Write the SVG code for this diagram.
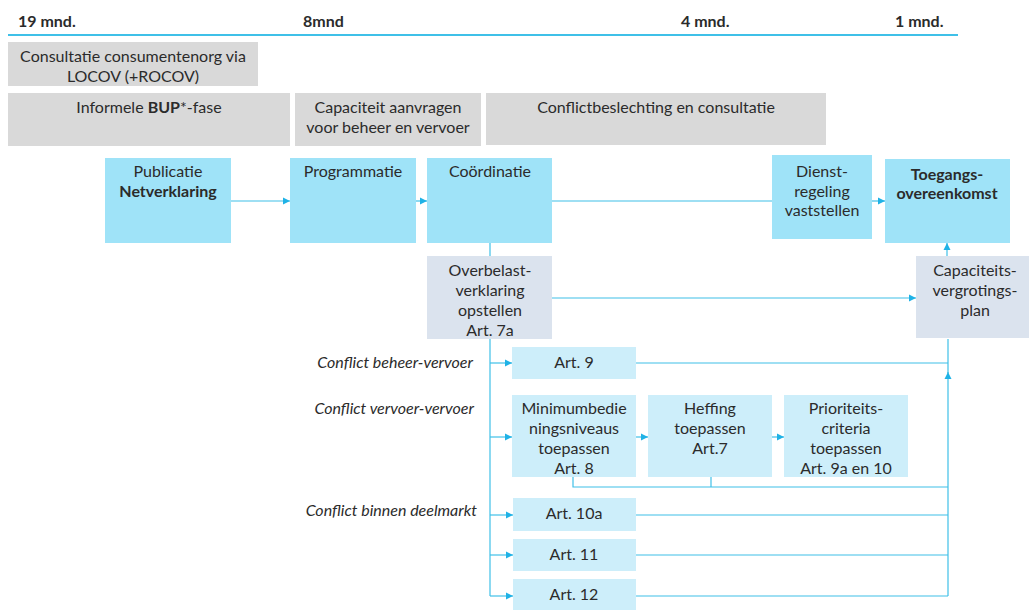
<svg xmlns="http://www.w3.org/2000/svg" width="1029" height="610" viewBox="0 0 1029 610">
<style>
text{font-family:Lato,"Noto Sans","Liberation Sans",sans-serif;font-size:16px;fill:#2b2b2b;text-anchor:middle}
.tl{font-weight:bold;text-anchor:start}
.b{font-weight:bold}
.it{font-style:italic;text-anchor:end}
.gray{fill:#d9d9d9}
.blue{fill:#9fe3f8}
.lblue{fill:#cdeefa}
.gb{fill:#dbe3ee}
.ln{stroke:#3fc0e8;stroke-width:1.2;fill:none}
</style>
<defs>
<marker id="ah" markerWidth="8" markerHeight="8" refX="7" refY="4" orient="auto" markerUnits="userSpaceOnUse">
<path d="M0,0.5 L7,4 L0,7.5 Z" fill="#1fb2e6"/>
</marker>
</defs>

<g id="timeline">
<line x1="8" y1="35" x2="958" y2="35" stroke="#3fc0e8" stroke-width="2"/>
<text class="tl" x="18" y="27">19 mnd.</text>
<text class="tl" x="303" y="27">8mnd</text>
<text class="tl" x="681" y="27">4 mnd.</text>
<text class="tl" x="895" y="27">1 mnd.</text>
</g>

<g id="phase-consultatie"><rect class="gray" x="8" y="42" width="250" height="44"/>
<text x="133" y="62">Consultatie consumentenorg via</text><text x="133" y="82">LOCOV (+ROCOV)</text></g>
<g id="phase-bup"><rect class="gray" x="8" y="93" width="282" height="53"/>
<text x="149" y="113">Informele <tspan class="b">BUP</tspan>*-fase</text></g>
<g id="phase-capaciteit"><rect class="gray" x="295" y="93" width="186" height="53"/>
<text x="388" y="113">Capaciteit aanvragen</text><text x="388" y="133">voor beheer en vervoer</text></g>
<g id="phase-conflict"><rect class="gray" x="486" y="93" width="340" height="52"/>
<text x="656" y="113">Conflictbeslechting en consultatie</text></g>

<g id="connectors">
<line class="ln" x1="231" y1="201" x2="290" y2="201" marker-end="url(#ah)"/>
<line class="ln" x1="416" y1="201" x2="427" y2="201" marker-end="url(#ah)"/>
<line class="ln" x1="552" y1="201" x2="772" y2="201"/>
<line class="ln" x1="872" y1="201" x2="885" y2="201" marker-end="url(#ah)"/>
<line class="ln" x1="947" y1="256" x2="947" y2="243" marker-end="url(#ah)"/>
<line class="ln" x1="552" y1="298" x2="916" y2="298" marker-end="url(#ah)"/>
<line class="ln" x1="490" y1="243" x2="490" y2="256"/>
<line class="ln" x1="490" y1="339" x2="490" y2="596"/>
<line class="ln" x1="490" y1="363" x2="512" y2="363" marker-end="url(#ah)"/>
<line class="ln" x1="490" y1="437" x2="512" y2="437" marker-end="url(#ah)"/>
<line class="ln" x1="490" y1="515" x2="513" y2="515" marker-end="url(#ah)"/>
<line class="ln" x1="490" y1="555" x2="513" y2="555" marker-end="url(#ah)"/>
<line class="ln" x1="490" y1="596" x2="513" y2="596" marker-end="url(#ah)"/>
<line class="ln" x1="636" y1="437" x2="648" y2="437" marker-end="url(#ah)"/>
<line class="ln" x1="772" y1="437" x2="784" y2="437" marker-end="url(#ah)"/>
<line class="ln" x1="636" y1="363" x2="948" y2="363"/>
<polyline class="ln" points="573,477 573,487 948,487"/>
<line class="ln" x1="711" y1="477" x2="711" y2="487"/>
<line class="ln" x1="636" y1="515" x2="948" y2="515"/>
<line class="ln" x1="636" y1="555" x2="948" y2="555"/>
<line class="ln" x1="636" y1="596" x2="948" y2="596"/>
<line class="ln" x1="948" y1="596" x2="948" y2="372" marker-end="url(#ah)"/>
<line class="ln" x1="948" y1="373" x2="948" y2="339"/>
</g>

<g id="publicatie"><rect class="blue" x="105" y="158" width="126" height="85"/>
<text x="168" y="177">Publicatie</text><text class="b" x="168" y="197">Netverklaring</text></g>
<g id="programmatie"><rect class="blue" x="290" y="158" width="126" height="85"/>
<text x="353" y="177">Programmatie</text></g>
<g id="coordinatie"><rect class="blue" x="427" y="158" width="125" height="85"/>
<text x="490" y="177">Coördinatie</text></g>
<g id="dienstregeling"><rect class="blue" x="772" y="155" width="100" height="84"/>
<text x="822" y="177">Dienst-</text><text x="822" y="197">regeling</text><text x="822" y="216">vaststellen</text></g>
<g id="toegang"><rect class="blue" x="885" y="159" width="125" height="84"/>
<text class="b" x="947" y="180">Toegangs-</text><text class="b" x="947" y="199">overeenkomst</text></g>
<g id="overbelast"><rect class="gb" x="427" y="256" width="125" height="83"/>
<text x="490" y="276">Overbelast-</text><text x="490" y="296">verklaring</text><text x="490" y="316">opstellen</text><text x="490" y="336">Art. 7a</text></g>
<g id="capaciteitsplan"><rect class="gb" x="916" y="256" width="113" height="82"/>
<text x="975" y="276">Capaciteits-</text><text x="975" y="296">vergrotings-</text><text x="975" y="316">plan</text></g>

<g id="labels">
<text class="it" x="473" y="368">Conflict beheer-vervoer</text>
<text class="it" x="474" y="414">Conflict vervoer-vervoer</text>
<text class="it" x="477" y="516">Conflict binnen deelmarkt</text>
</g>

<g id="art9"><rect class="lblue" x="512" y="347" width="124" height="32"/><text x="574" y="368">Art. 9</text></g>
<g id="art8"><rect class="lblue" x="512" y="395" width="124" height="82"/>
<text x="574" y="414">Minimumbedie</text><text x="574" y="434">ningsniveaus</text><text x="574" y="454">toepassen</text><text x="574" y="474">Art. 8</text></g>
<g id="art7"><rect class="lblue" x="648" y="395" width="124" height="82"/>
<text x="710" y="414">Heffing</text><text x="710" y="434">toepassen</text><text x="710" y="454">Art.7</text></g>
<g id="art9a"><rect class="lblue" x="784" y="395" width="124" height="82"/>
<text x="846" y="414">Prioriteits-</text><text x="846" y="434">criteria</text><text x="846" y="454">toepassen</text><text x="846" y="474">Art. 9a en 10</text></g>
<g id="art10a"><rect class="lblue" x="513" y="498" width="123" height="33"/><text x="574" y="519">Art. 10a</text></g>
<g id="art11"><rect class="lblue" x="513" y="539" width="123" height="32"/><text x="574" y="560">Art. 11</text></g>
<g id="art12"><rect class="lblue" x="513" y="579" width="123" height="31"/><text x="574" y="600">Art. 12</text></g>
</svg>
